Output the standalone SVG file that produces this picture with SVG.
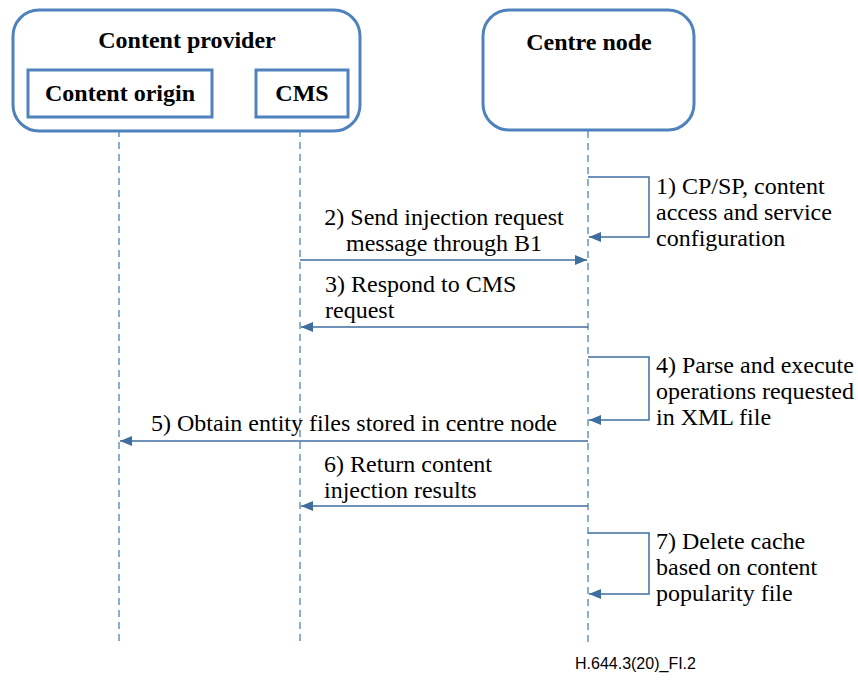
<svg xmlns="http://www.w3.org/2000/svg" width="858" height="682" viewBox="0 0 858 682">
  <style>
    .box { fill: #ffffff; stroke: #4f81bd; stroke-width: 3; }
    .title { font-family: "Liberation Serif", "Times New Roman", serif; font-weight: bold; font-size: 24px; fill: #000; }
    .life { stroke: #4f81bd; stroke-width: 1.3; stroke-dasharray: 7 5; fill: none; }
    .msg { stroke: #3f6d9e; stroke-width: 1.5; fill: none; }
    .lbl { font-family: "Liberation Serif", "Times New Roman", serif; font-size: 24px; fill: #000; }
    .foot { font-family: "Liberation Sans", Arial, sans-serif; font-size: 16px; fill: #000; }
  </style>
  <defs>
    <marker id="arrow" viewBox="0 0 12 10" refX="12" refY="5" markerWidth="12" markerHeight="10" markerUnits="userSpaceOnUse" orient="auto">
      <path d="M0,0 L12,5 L0,10 Z" fill="#3f6d9e"/>
    </marker>
  </defs>

  <rect width="858" height="682" fill="#ffffff"/>

  <!-- lifelines -->
  <g id="lifelines">
    <line class="life" x1="119" y1="118" x2="119" y2="645"/>
    <line class="life" x1="300" y1="118" x2="300" y2="645"/>
    <line class="life" x1="588" y1="131" x2="588" y2="645"/>
  </g>

  <g id="content-provider">
    <rect class="box" x="13" y="10" width="347" height="121" rx="26"/>
    <text class="title" x="187" y="48" text-anchor="middle">Content provider</text>
  </g>
  <g id="content-origin">
    <rect class="box" x="28" y="70" width="184" height="47"/>
    <text class="title" x="120" y="101" text-anchor="middle">Content origin</text>
  </g>
  <g id="cms">
    <rect class="box" x="256" y="70" width="92" height="47"/>
    <text class="title" x="302" y="101" text-anchor="middle">CMS</text>
  </g>
  <g id="centre-node">
    <rect class="box" x="483" y="10" width="211" height="120" rx="26"/>
    <text class="title" x="589" y="50" text-anchor="middle">Centre node</text>
  </g>

  <!-- messages -->
  <g id="connectors">
    <path class="msg" d="M588,177 H649 V237 H589" marker-end="url(#arrow)"/>
    <line class="msg" x1="300" y1="260" x2="587" y2="260" marker-end="url(#arrow)"/>
    <line class="msg" x1="588" y1="327" x2="301" y2="327" marker-end="url(#arrow)"/>
    <path class="msg" d="M588,357 H649 V420 H589" marker-end="url(#arrow)"/>
    <line class="msg" x1="588" y1="441" x2="120" y2="441" marker-end="url(#arrow)"/>
    <line class="msg" x1="588" y1="506" x2="301" y2="506" marker-end="url(#arrow)"/>
    <path class="msg" d="M588,533 H649 V594 H589" marker-end="url(#arrow)"/>
  </g>

  <g id="labels">
    <text class="lbl" x="656" y="194">1) CP/SP, content</text>
    <text class="lbl" x="656" y="220">access and service</text>
    <text class="lbl" x="656" y="246">configuration</text>

    <text class="lbl" x="444" y="225" text-anchor="middle">2) Send injection request</text>
    <text class="lbl" x="444" y="251" text-anchor="middle">message through B1</text>

    <text class="lbl" x="325" y="292">3) Respond to CMS</text>
    <text class="lbl" x="325" y="318">request</text>

    <text class="lbl" x="656" y="373">4) Parse and execute</text>
    <text class="lbl" x="656" y="399">operations requested</text>
    <text class="lbl" x="656" y="425">in XML file</text>

    <text class="lbl" x="354" y="431" text-anchor="middle">5) Obtain entity files stored in centre node</text>

    <text class="lbl" x="324" y="472">6) Return content</text>
    <text class="lbl" x="324" y="498">injection results</text>

    <text class="lbl" x="656" y="549">7) Delete cache</text>
    <text class="lbl" x="656" y="575">based on content</text>
    <text class="lbl" x="656" y="601">popularity file</text>

    <text class="foot" x="575" y="669">H.644.3(20)_FI.2</text>
  </g>
</svg>
